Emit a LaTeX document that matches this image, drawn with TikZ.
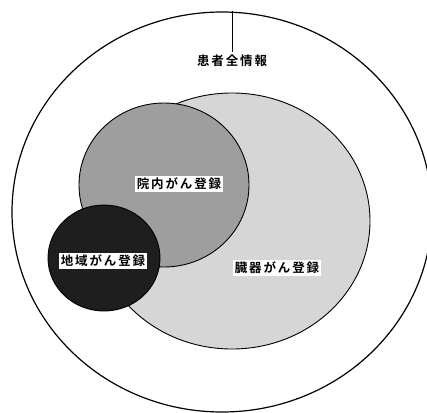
\documentclass[tikz,border=0pt]{standalone}
\usepackage{fontspec}
\setmainfont{Noto Sans CJK JP}[BoldFont={* Bold}]
\usetikzlibrary{shapes.geometric}
\definecolor{organgray}{HTML}{D6D6D6}
\definecolor{hospgray}{HTML}{9E9E9E}
\definecolor{regiondark}{HTML}{1E1E1E}
\tikzset{
  setshape/.style={ellipse, draw=black, line width=0.9pt, inner sep=0pt},
  lbl/.style={fill=white, inner sep=2pt, font=\fontsize{12.5}{12.5}\selectfont\bfseries\addfontfeature{LetterSpace=15}},
  toplbl/.style={inner sep=3pt, font=\fontsize{12.5}{12.5}\selectfont\bfseries\addfontfeature{LetterSpace=15}},
  link/.style={draw=black, line width=0.6pt}
}
\begin{document}
\begin{tikzpicture}[x=1pt,y=-1pt]
\useasboundingbox[fill=white] (0,0) rectangle (427,412);
\node[setshape, line width=1.2pt, minimum width=420pt, minimum height=400pt] (outer) at (222,212) {};
\node[setshape, fill=organgray, minimum width=276pt, minimum height=256pt] (organ) at (232,221) {};
\node[setshape, fill=hospgray, minimum width=170pt, minimum height=164pt] (hosp) at (164,185) {};
\node[setshape, fill=regiondark, minimum width=112pt, minimum height=106pt] (region) at (104,258) {};
\node[toplbl] (patient) at (232,61) {患者全情報};
\draw[link] (patient.north) -- (patient.north |- outer.north);
\node[lbl] (hosplbl) at (179,184) {院内がん登録};
\node[lbl] (regionlbl) at (103,261) {地域がん登録};
\node[lbl] (organlbl) at (277,268) {臓器がん登録};
\end{tikzpicture}
\end{document}
